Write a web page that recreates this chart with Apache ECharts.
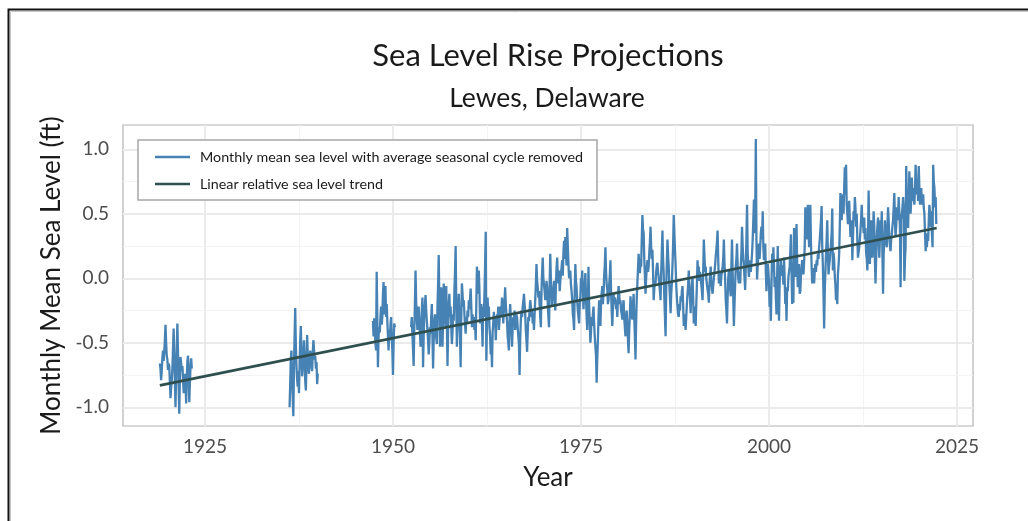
<!DOCTYPE html>
<html>
<head>
<meta charset="utf-8">
<script src="https://cdn.jsdelivr.net/npm/echarts@6/dist/echarts.min.js"></script>
<style>
  html, body { margin: 0; padding: 0; background: #ffffff; }
  #chart { width: 1028px; height: 521px; }
</style>
</head>
<body>
<div id="chart"></div>
<script>
// Lewes, DE monthly mean sea level (ft), seasonal cycle removed.
// Each record block: first year/month, then one value per month.
const seg1Start = [1919, 1];
const seg1Levels = [
  -0.66,-0.70,-0.79,-0.72,-0.62,-0.56,-0.64,-0.58,-0.48,-0.36,-0.50,-0.60,
  -0.63,-0.71,-0.66,-0.68,-0.80,-0.93,-0.85,-0.79,-0.70,-0.55,-0.39,-0.62,
  -0.80,-1.00,-0.72,-0.52,-0.35,-0.58,-0.85,-1.05,-0.78,-0.61,-0.66,-0.72,
  -0.68,-0.78,-0.89,-0.80,-0.74,-0.82,-0.97,-0.76,-0.64,-0.60,-0.78,-0.96,
  -0.80,-0.68,-0.62,-0.70
];
const seg2Start = [1936, 4];
const seg2Levels = [
  -1.00,-0.82,-0.62,-0.56,-0.80,-0.92,-1.07,-0.70,-0.45,-0.23,-0.52,-0.68,
  -0.78,-0.84,-0.72,-0.89,-0.66,-0.48,-0.37,-0.60,-0.76,-0.70,-0.58,-0.48,
  -0.62,-0.80,-0.87,-0.66,-0.44,-0.58,-0.70,-0.74,-0.62,-0.56,-0.60,-0.68,
  -0.72,-0.58,-0.48,-0.55,-0.63,-0.60,-0.70,-0.65,-0.82,-0.74
];
const seg3Start = [1947, 5];
const seg3Levels = [
  -0.33,-0.45,-0.31,-0.40,-0.50,-0.56,0.05,-0.30,-0.69,-0.45,-0.38,-0.42,
  -0.30,-0.22,-0.36,-0.30,-0.12,-0.03,-0.28,-0.22,-0.06,-0.30,-0.20,-0.33,
  -0.45,-0.56,-0.40,-0.48,-0.36,-0.30,-0.45,-0.56,-0.75,-0.50,-0.35,-0.38
];
const seg4Start = [1952, 6];
const seg4Levels = [
  -0.38,-0.30,-0.44,-0.55,-0.68,-0.40,-0.20,0.06,-0.18,-0.32,-0.40,-0.30,
  -0.22,-0.35,-0.42,-0.53,-0.36,-0.25,-0.15,-0.69,-0.45,-0.28,-0.20,-0.13,
  -0.25,-0.33,-0.40,-0.48,-0.59,-0.50,-0.38,-0.43,-0.30,-0.20,-0.45,-0.70,
  -0.48,-0.33,-0.28,-0.40,-0.46,-0.51,-0.22,-0.05,0.18,-0.20,-0.53,-0.30,
  -0.07,-0.25,-0.53,-0.32,-0.04,-0.20,-0.30,-0.38,-0.06,-0.35,-0.68,-0.40,
  -0.20,-0.12,-0.30,-0.22,-0.38,-0.51,-0.42,-0.28,-0.33,-0.10,0.05,0.25,
  -0.20,-0.53,-0.35,-0.24,-0.12,-0.30,-0.45,-0.69,-0.30,-0.04,-0.12,-0.22,
  -0.17,-0.28,-0.36,-0.43,-0.30,-0.35,-0.25,-0.30,-0.17,-0.24,-0.15,-0.08,
  -0.22,-0.38,-0.28,-0.34,-0.30,-0.40,-0.36,-0.48,-0.20,0.09,-0.05,-0.12,
  0.06,-0.10,-0.35,-0.28,-0.20,-0.36,-0.53,-0.22,-0.30,-0.12,0.10,0.36,
  -0.64,-0.35,-0.15,-0.28,-0.22,-0.38,-0.45,-0.59,-0.50,-0.69,-0.42,-0.35,
  -0.26,-0.38,-0.30,-0.48,-0.35,-0.28,-0.32,-0.22,-0.40,-0.33,-0.22,-0.30,
  -0.25,-0.15,-0.20,-0.35,-0.25,-0.18,-0.07,-0.20,-0.28,-0.33,-0.45,-0.50,
  -0.56,-0.32,-0.20,-0.30,-0.40,-0.53,-0.38,-0.30,-0.33,-0.25,-0.40,-0.35,
  -0.28,-0.30,-0.38,-0.45,-0.51,-0.75,-0.48,-0.33,-0.25,-0.30,-0.22,-0.18,
  -0.12,-0.20,-0.28,-0.40,-0.48,-0.57,-0.42,-0.30,-0.33,-0.25,-0.17,-0.22,
  -0.30,-0.25,-0.35,-0.30,-0.40,-0.28,-0.17,-0.05,0.11,-0.02,-0.07,-0.15,
  -0.10,-0.20,-0.30,-0.38,-0.10,0.05,0.16,0.00,0.01,-0.10,-0.17,-0.12,
  -0.02,-0.07,-0.20,-0.30,-0.38,-0.05,0.19,-0.02,-0.10,-0.22,-0.08,-0.10,
  -0.02,-0.15,-0.25,-0.05,0.08,0.16,0.02,-0.04,0.06,-0.10,-0.02,0.03,
  0.08,0.14,0.02,0.20,0.29,0.15,0.32,0.20,0.10,0.39,0.25,0.11,
  0.00,0.04,0.06,-0.05,-0.10,-0.17,-0.28,-0.32,-0.40,-0.10,0.11,-0.02,
  -0.07,-0.18,-0.25,-0.30,-0.35,-0.20,-0.14,0.00,-0.05,0.06,-0.10,-0.24,
  -0.24,-0.05,0.04,-0.15,-0.30,-0.40,-0.17,0.09,-0.20,-0.35,-0.50,-0.42,
  -0.30,-0.37,-0.28,-0.22,-0.35,-0.45,-0.53,-0.60,-0.81,-0.62,-0.48,-0.30,
  -0.17,-0.25,-0.37,-0.20,-0.12,-0.06,-0.20,-0.12,0.02,0.10,0.24,0.05,
  -0.05,-0.09,-0.20,-0.17,-0.05,0.02,0.14,-0.10,-0.25,-0.37,-0.22,-0.12,
  -0.20,-0.15,-0.17,-0.24,-0.20,-0.30,-0.15,-0.06,-0.12,-0.20,-0.17,-0.25,
  -0.28,-0.32,-0.22,-0.17,-0.30,-0.38,-0.45,-0.30,-0.25,-0.37,-0.48,-0.58,
  -0.40,-0.28,-0.14,-0.22,-0.28,-0.32,-0.20,-0.12,-0.30,-0.45,-0.63,-0.35,
  -0.15,-0.04,0.08,0.19,0.10,0.04,0.12,0.09,0.30,0.49,0.38,0.35,
  0.15,0.02,-0.12,0.00,0.08,0.14,0.05,0.09,0.20,0.28,0.40,0.25,
  0.15,0.22,0.05,-0.17,-0.08,-0.02,-0.04,0.05,0.10,0.12,0.05,0.01,
  -0.05,-0.10,-0.17,0.05,0.20,0.37,0.15,0.04,-0.15,-0.30,-0.45,-0.10,
  0.12,0.30,0.18,0.09,-0.05,-0.15,-0.27,-0.12,-0.04,0.10,0.25,0.49,
  0.35,0.22,0.10,-0.05,-0.15,-0.22,-0.28,-0.30,-0.20,-0.25,-0.14,-0.18,
  -0.10,-0.06,-0.20,-0.37,-0.28,-0.32,-0.40,-0.30,-0.20,-0.12,-0.05,0.06,
  -0.08,-0.15,-0.27,-0.10,-0.05,0.01,-0.15,-0.35,-0.22,-0.28,-0.37,-0.20,
  -0.05,0.14,0.02,0.09,-0.02,0.05,0.04,-0.05,-0.10,-0.17,0.05,0.30,
  0.18,0.05,0.09,0.00,-0.05,-0.09,-0.12,-0.19,-0.05,0.02,0.09,-0.02,
  -0.08,-0.12,-0.06,-0.06,0.05,0.10,0.17,0.22,0.28,0.37,0.15,-0.04,
  0.05,-0.02,-0.06,0.02,0.05,0.09,0.15,0.30,0.12,0.00,-0.17,-0.25,
  -0.35,-0.15,0.00,0.06,-0.05,-0.08,-0.14,0.10,0.30,0.05,-0.15,-0.37,
  -0.20,-0.05,0.09,0.15,0.27,0.10,0.00,-0.04,0.05,-0.04,0.10,0.20,
  0.40,0.25,0.15,0.09,0.00,-0.09,0.10,0.30,0.57,0.20,0.08,0.01,
  0.10,0.14,0.05,0.12,0.19,0.30,0.45,0.61,0.35,0.50,1.08,0.30,
  -0.01,0.10,0.18,0.27,0.15,0.24,0.35,0.40,0.30,0.52,0.25,0.14,
  0.20,0.27,0.05,-0.10,0.02,0.11,0.05,-0.02,-0.22,-0.15,-0.33,-0.05,
  0.19,0.05,0.24,0.10,-0.07,0.01,-0.15,-0.28,0.00,0.25,0.02,-0.33,
  -0.04,0.05,0.14,0.02,0.10,0.06,-0.05,0.16,0.00,-0.20,-0.12,-0.33,
  -0.07,-0.10,0.01,0.05,0.09,0.20,0.34,0.05,-0.20,-0.05,-0.19,0.39,
  0.15,0.01,0.20,0.42,0.10,-0.07,0.05,0.11,-0.12,-0.10,0.02,0.08,
  0.14,0.08,0.03,0.12,0.24,0.55,0.35,0.45,0.30,0.57,0.40,0.24,
  0.35,0.57,0.27,0.10,-0.04,0.08,0.02,-0.04,0.05,0.11,0.05,0.14,
  0.10,0.19,0.15,0.24,0.30,0.37,0.45,0.56,0.24,0.10,-0.12,-0.39,
  -0.10,0.05,0.19,0.30,0.45,0.20,0.03,0.10,0.14,0.20,0.27,0.35,
  0.54,0.06,0.20,0.14,0.02,-0.05,-0.17,-0.10,-0.20,0.03,0.10,0.19,
  0.40,0.66,0.50,0.45,0.55,0.65,0.50,0.70,0.86,0.65,0.88,0.57,
  0.50,0.42,0.55,0.60,0.45,0.32,0.40,0.45,0.14,0.30,0.52,0.45,
  0.63,0.55,0.40,0.50,0.30,0.16,0.20,0.24,0.30,0.37,0.45,0.57,
  0.40,0.45,0.35,0.47,0.30,0.39,0.20,0.15,0.06,0.30,0.68,0.35,
  0.11,0.25,0.45,0.30,0.16,0.35,0.52,0.40,0.15,-0.04,0.15,0.32,
  0.40,0.47,0.30,0.16,0.30,0.45,0.35,0.52,0.20,-0.12,0.19,0.30,
  0.45,0.35,0.28,0.24,0.40,0.55,0.45,0.32,0.25,0.21,0.30,0.34,
  0.40,0.45,0.55,0.66,0.45,0.32,0.40,0.55,0.45,0.50,0.63,0.50,
  0.39,-0.07,0.45,0.50,0.55,0.63,0.55,-0.02,0.15,0.24,0.87,0.60,
  0.50,0.39,0.60,0.83,0.65,0.50,0.62,0.78,0.60,0.70,0.62,0.57,
  0.70,0.88,0.75,0.65,0.72,0.60,0.87,0.70,0.57,0.62,0.70,0.57,
  0.62,0.65,0.55,0.50,0.35,0.21,0.30,0.24,0.35,0.29,0.45,0.57,
  0.50,0.40,0.52,0.35,0.24,0.88,0.75,0.70,0.55,0.63,0.42
];

// Linear relative sea level trend: end points (year, ft)
const trendYears = [1919.0, 2022.3];
const trendLevels = [-0.83, 0.39];

// Axis ticks and grid lines
const yearTicks = [1925, 1950, 1975, 2000, 2025];
const yearMinorTicks = [1937.5, 1962.5, 1987.5, 2012.5];
const levelTicks = [-1.0, -0.5, 0.0, 0.5, 1.0];
const levelMinorTicks = [-0.75, -0.25, 0.25, 0.75];

const seriesNames = [
  'Monthly mean sea level with average seasonal cycle removed',
  'Linear relative sea level trend'
];

// Build [decimalYear, level] pairs; a null point breaks the line between record blocks.
function blockPoints(start, levels) {
  return levels.map((v, i) => [start[0] + (start[1] - 1 + i) / 12, v]);
}
const blocks = [
  [seg1Start, seg1Levels],
  [seg2Start, seg2Levels],
  [seg3Start, seg3Levels],
  [seg4Start, seg4Levels]
];
const monthly = [];
blocks.forEach(([start, levels], k) => {
  if (k > 0) monthly.push([start[0] + (start[1] - 1.5) / 12, null]);
  blockPoints(start, levels).forEach(p => monthly.push(p));
});
const trend = trendYears.map((y, i) => [y, trendLevels[i]]);

const FONT = 'Lato';
const chart = echarts.init(document.getElementById('chart'), null, { renderer: 'canvas' });

const major = { color: '#ebebeb', width: 2, type: 'solid' };
const minor = { color: '#f3f3f3', width: 1, type: 'solid' };
const gridLines = [];
yearTicks.forEach(v => gridLines.push({ xAxis: v, lineStyle: major }));
yearMinorTicks.forEach(v => gridLines.push({ xAxis: v, lineStyle: minor }));
levelTicks.forEach(v => gridLines.push({ yAxis: v, lineStyle: major }));
levelMinorTicks.forEach(v => gridLines.push({ yAxis: v, lineStyle: minor }));

chart.setOption({
  backgroundColor: '#ffffff',
  animation: false,
  textStyle: { fontFamily: FONT },
  title: [
    {
      text: 'Sea Level Rise Projections',
      left: 543, top: 35, textAlign: 'center',
      textStyle: { fontFamily: FONT, fontSize: 31, fontWeight: 'normal', color: '#1a1a1a' }
    },
    {
      text: 'Lewes, Delaware',
      left: 542, top: 80, textAlign: 'center',
      textStyle: { fontFamily: FONT, fontSize: 26.5, fontWeight: 'normal', color: '#1a1a1a' }
    }
  ],
  legend: {
    z: 10,
    orient: 'vertical',
    left: 138, top: 140,
    data: seriesNames,
    backgroundColor: '#ffffff',
    borderColor: '#a6a6a6',
    borderWidth: 1.5,
    padding: [10, 14, 9, 17],
    itemGap: 13,
    itemWidth: 35,
    itemHeight: 2.5,
    icon: 'rect',
    textStyle: { fontFamily: FONT, fontSize: 14.3, color: '#1a1a1a', padding: [0, 0, 0, 5] }
  },
  grid: {
    left: 123, top: 125, width: 850, height: 301,
    show: true, borderColor: '#b3b3b3', borderWidth: 1.2,
    backgroundColor: '#ffffff'
  },
  xAxis: {
    type: 'value',
    min: 1914.1, max: 2027.13,
    name: 'Year',
    nameLocation: 'middle',
    nameGap: 39,
    nameTextStyle: { fontFamily: FONT, fontSize: 26, color: '#1a1a1a' },
    axisLine: { show: false },
    axisTick: { show: false, customValues: yearTicks },
    splitLine: { show: false },
    axisLabel: {
      customValues: yearTicks,
      margin: 11,
      fontFamily: FONT, fontSize: 19, color: '#4d4d4d',
      formatter: v => String(v)
    }
  },
  yAxis: {
    type: 'value',
    min: -1.145, max: 1.188,
    name: 'Monthly Mean Sea Level (ft)',
    nameLocation: 'middle',
    nameGap: 44,
    nameTextStyle: { fontFamily: FONT, fontSize: 26, color: '#1a1a1a' },
    axisLine: { show: false },
    axisTick: { show: false, customValues: levelTicks },
    splitLine: { show: false },
    axisLabel: {
      customValues: levelTicks,
      margin: 14,
      fontFamily: FONT, fontSize: 19, color: '#4d4d4d',
      formatter: v => Number(v).toFixed(1)
    }
  },
  series: [
    {
      name: 'grid',
      type: 'line',
      data: [],
      silent: true,
      z: 0,
      markLine: {
        z: 0,
        silent: true,
        symbol: ['none', 'none'],
        label: { show: false },
        emphasis: { disabled: true },
        data: gridLines
      }
    },
    {
      name: seriesNames[0],
      type: 'line',
      z: 2,
      data: monthly,
      showSymbol: false,
      connectNulls: false,
      color: '#4682b4',
      lineStyle: { color: '#4682b4', width: 2.3 },
      emphasis: { disabled: true }
    },
    {
      name: seriesNames[1],
      type: 'line',
      z: 3,
      data: trend,
      showSymbol: false,
      color: '#2f4f4f',
      lineStyle: { color: '#2f4f4f', width: 2.6 },
      emphasis: { disabled: true }
    }
  ],
  graphic: [
    {
      type: 'rect', silent: true,
      shape: { x: 8.5, y: 9.5, width: 1100, height: 600 },
      style: { fill: null, stroke: '#111111', lineWidth: 2 }
    },
    {
      type: 'polyline', silent: true,
      shape: { points: [[10.5, 600], [10.5, 11.5], [1100, 11.5]] },
      style: { fill: null, stroke: '#c4c4c4', lineWidth: 1 }
    }
  ]
});
</script>
</body>
</html>
